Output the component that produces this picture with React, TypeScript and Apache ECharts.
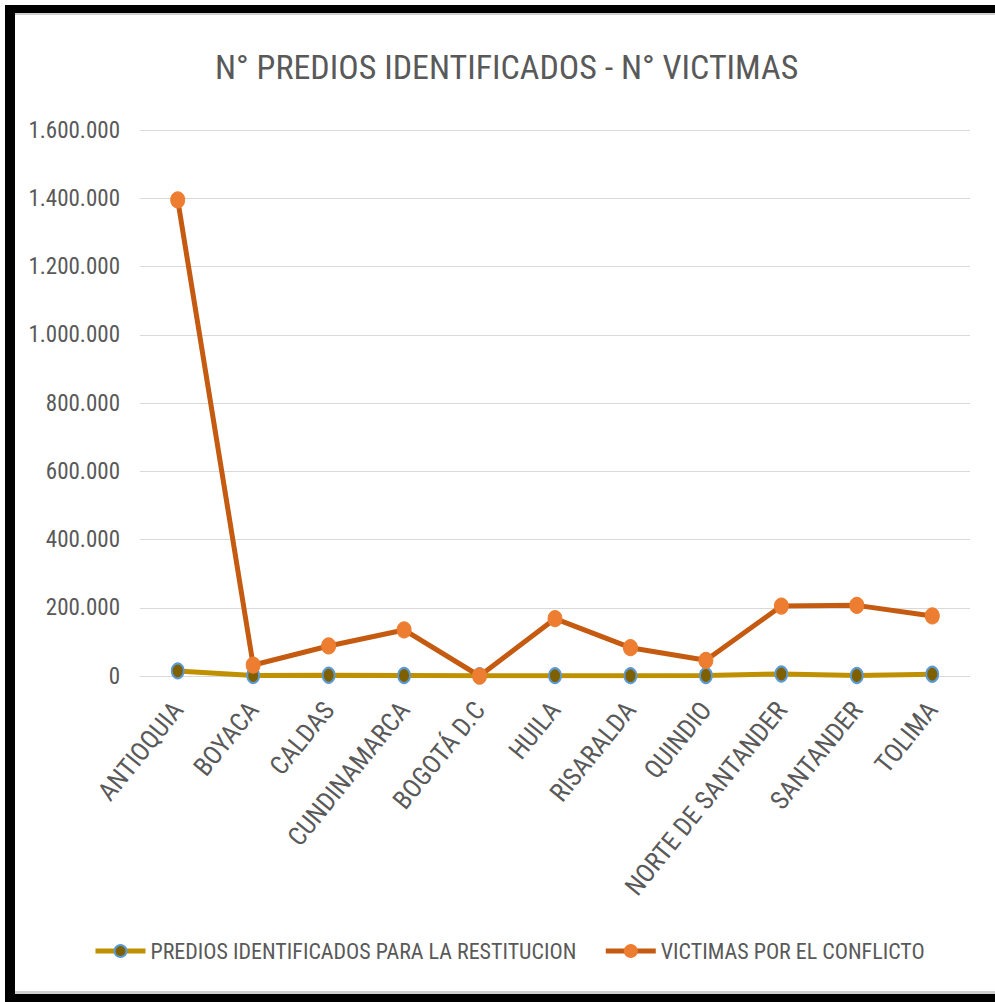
import React, { useEffect, useRef } from "react";
import * as echarts from "echarts";

const categories = [
  "ANTIOQUIA",
  "BOYACA",
  "CALDAS",
  "CUNDINAMARCA",
  "BOGOTÁ D.C",
  "HUILA",
  "RISARALDA",
  "QUINDIO",
  "NORTE DE SANTANDER",
  "SANTANDER",
  "TOLIMA",
];
const prediosValues = [15000, 1500, 2000, 1500, 500, 1000, 1000, 1500, 6000, 1500, 5000];
const victimasValues = [1395000, 32000, 88000, 135000, 0, 168000, 83000, 46000, 205000, 207000, 176000];
const yTicks = { min: 0, max: 1600000, interval: 200000 };
const seriesNames = ["PREDIOS IDENTIFICADOS PARA LA RESTITUCION", "VICTIMAS POR EL CONFLICTO"];
const titleText = "N° PREDIOS IDENTIFICADOS - N° VICTIMAS";

const FONT = "'Liberation Sans Narrow', 'Roboto Condensed', 'Liberation Sans', sans-serif";
const GREY = "#595959";

function fmt(v: number): string {
  return String(v).replace(/\B(?=(\d{3})+(?!\d))/g, ".");
}

export default function App() {
  const ref = useRef<HTMLDivElement>(null);
  useEffect(() => {
    if (!ref.current) return;
    const chart = echarts.init(ref.current, undefined, { renderer: "svg" });
    chart.setOption({
      animation: false,
      backgroundColor: "#ffffff",
      title: {
        text: titleText,
        left: 210,
        top: 45,
        textStyle: { fontFamily: FONT, fontSize: 34, fontWeight: "normal", color: GREY },
      },
      legend: {
        bottom: 35,
        left: 88,
        itemWidth: 50,
        itemHeight: 15,
        itemGap: 27,
        lineStyle: { width: 5 },
        textStyle: { fontFamily: FONT, fontSize: 22, color: GREY },
        data: seriesNames,
      },
      grid: { left: 140, right: 25, top: 130, bottom: 326, containLabel: false },
      xAxis: {
        type: "category",
        data: categories,
        boundaryGap: true,
        axisLine: { show: true, lineStyle: { color: "#D9D9D9", width: 1 } },
        axisTick: { show: false },
        axisLabel: {
          rotate: 51,
          margin: 29,
          interval: 0,
          fontFamily: FONT,
          fontSize: 26,
          color: GREY,
        },
      },
      yAxis: {
        type: "value",
        min: yTicks.min,
        max: yTicks.max,
        interval: yTicks.interval,
        axisLine: { show: false },
        axisTick: { show: false },
        splitLine: { lineStyle: { color: "#D9D9D9", width: 1 } },
        axisLabel: {
          margin: 20,
          fontFamily: FONT,
          fontSize: 23,
          color: GREY,
          formatter: (v: number) => fmt(v),
        },
      },
      series: [
        {
          name: seriesNames[0],
          type: "line",
          data: prediosValues,
          symbol: "circle",
          symbolSize: [12, 15],
          lineStyle: { color: "#BF9000", width: 5 },
          itemStyle: { color: "#7F6000", borderColor: "#5B9BD5", borderWidth: 2 },
        },
        {
          name: seriesNames[1],
          type: "line",
          data: victimasValues,
          symbol: "circle",
          symbolSize: [14, 16],
          lineStyle: { color: "#C55A11", width: 5 },
          itemStyle: { color: "#ED7D31", borderColor: "#ED7D31", borderWidth: 1 },
        },
      ],
      graphic: [
        { type: "rect", shape: { x: 5, y: 13, width: 990, height: 2 }, style: { fill: "#D0D0D0" }, silent: true },
        { type: "rect", shape: { x: 5, y: 991, width: 990, height: 3 }, style: { fill: "#D0D0D0" }, silent: true },
        { type: "rect", shape: { x: 5, y: 5, width: 990, height: 8 }, style: { fill: "#000000" }, silent: true },
        { type: "rect", shape: { x: 5, y: 994, width: 990, height: 8 }, style: { fill: "#000000" }, silent: true },
        { type: "rect", shape: { x: 5, y: 5, width: 10, height: 997 }, style: { fill: "#000000" }, silent: true },
      ],
    });
    return () => chart.dispose();
  }, []);
  return (
    <div
      ref={ref}
      style={{ position: "fixed", left: 0, top: 0, width: 995, height: 1002 }}
    />
  );
}
